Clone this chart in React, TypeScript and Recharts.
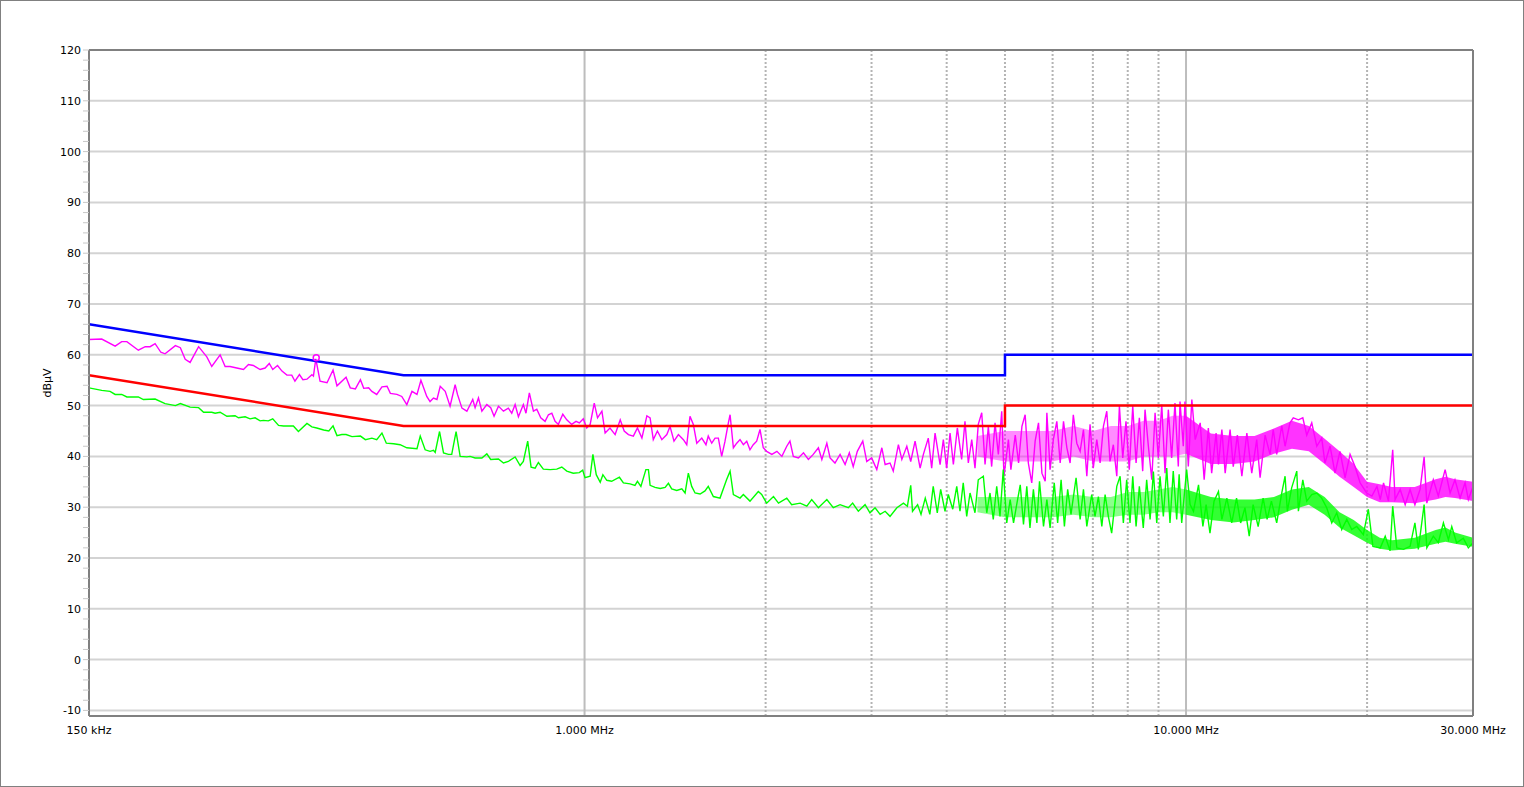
import React from "react";
import {
  ComposedChart,
  Line,
  Area,
  XAxis,
  YAxis,
  CartesianGrid,
  ReferenceLine,
  ReferenceDot,
} from "recharts";

const FREQ_TICKS = [0.15, 1, 10, 30];
const FREQ_TICK_LABELS = ["150 kHz", "1.000 MHz", "10.000 MHz", "30.000 MHz"];
const MAJOR_FREQ_LINES = [1, 10];
const MINOR_FREQ_LINES = [2, 3, 4, 5, 6, 7, 8, 9, 20];
const LEVEL_GRID = [-10, 0, 10, 20, 30, 40, 50, 60, 70, 80, 90, 100, 110];
const LEVEL_TICKS = [
  -10, -8, -6, -4, -2, 0, 2, 4, 6, 8, 10, 12, 14, 16, 18, 20, 22, 24, 26, 28,
  30, 32, 34, 36, 38, 40, 42, 44, 46, 48, 50, 52, 54, 56, 58, 60, 62, 64, 66,
  68, 70, 72, 74, 76, 78, 80, 82, 84, 86, 88, 90, 92, 94, 96, 98, 100, 102,
  104, 106, 108, 110, 112, 114, 116, 118, 120,
];

// limit lines (QP = blue, AV = red)
const QP_LIMIT_MHZ = [0.15, 0.5, 5, 5, 30];
const QP_LIMIT_DBUV = [66, 56, 56, 60, 60];
const AV_LIMIT_MHZ = [0.15, 0.5, 5, 5, 30];
const AV_LIMIT_DBUV = [56, 46, 46, 50, 50];

// peak marker
const MARKER_MHZ = [0.358];
const MARKER_DBUV = [59.4];

// peak trace (magenta)
const PEAK_MHZ = [
  0.15, 0.1575, 0.1658, 0.17, 0.1734, 0.1812, 0.186, 0.1895, 0.1932, 0.1975,
  0.2007, 0.2088, 0.2128, 0.2168, 0.2209, 0.2282, 0.2355, 0.24, 0.2478, 0.2526,
  0.2574, 0.2641, 0.271, 0.2762, 0.2814, 0.2888, 0.2944, 0.2991, 0.3031, 0.3087,
  0.314, 0.32, 0.326, 0.33, 0.3357, 0.3402, 0.3455, 0.3521, 0.3542, 0.3574,
  0.3633, 0.3731, 0.3818, 0.3876, 0.4013, 0.4078, 0.4159, 0.424, 0.4294, 0.4375,
  0.443, 0.4513, 0.4604, 0.4695, 0.4755, 0.4876, 0.4967, 0.5064, 0.5165, 0.5265,
  0.5345, 0.5466, 0.5535, 0.5608, 0.5683, 0.5755, 0.5866, 0.5976, 0.6093, 0.6148,
  0.6254, 0.6373, 0.6518, 0.6577, 0.6662, 0.675, 0.6879, 0.6982, 0.7072, 0.7192,
  0.7331, 0.7469, 0.7568, 0.7666, 0.7763, 0.7911, 0.7991, 0.8095, 0.8222, 0.8329,
  0.8456, 0.8597, 0.8708, 0.8822, 0.8933, 0.9046, 0.9201, 0.9342, 0.9519, 0.9679,
  0.9802, 0.9951, 1.0084, 1.0217, 1.0378, 1.051, 1.0687, 1.0819, 1.1022, 1.1242,
  1.1463, 1.1639, 1.1828, 1.2053, 1.2244, 1.2455, 1.2694, 1.2852, 1.301, 1.3216,
  1.3443, 1.3701, 1.3871, 1.4083, 1.4322, 1.46, 1.4789, 1.4972, 1.5166, 1.5367,
  1.5663, 1.5917, 1.6057, 1.6272, 1.6481, 1.669, 1.6905, 1.7121, 1.7342, 1.7456,
  1.7678, 1.7906, 1.8134, 1.8366, 1.8606, 1.8838, 1.9075, 1.9328, 1.9575, 1.9821,
  2.008, 2.0482, 2.0884, 2.1285, 2.1687, 2.1952, 2.2238, 2.2678, 2.3119, 2.3559,
  2.4, 2.4478, 2.4804, 2.5282, 2.5598, 2.6082, 2.6598, 2.7113, 2.7557, 2.7969,
  2.8411, 2.9011, 2.9456, 3.0012, 3.061, 3.1208, 3.1603, 3.2201, 3.2604, 3.3251,
  3.3692, 3.4339, 3.4857, 3.5442, 3.6133, 3.6588, 3.7279, 3.7768, 3.8259, 3.9003,
  3.9494, 4.0, 4.0519, 4.1038, 4.1667, 4.2358, 4.2903, 4.3456, 4.4027, 4.4581,
  4.5142, 4.5745, 4.633, 4.6915, 4.7518, 4.8134, 4.875, 4.9384, 4.9813, 5.0663,
  5.1145, 5.2008, 5.2671, 5.3353, 5.4016, 5.4679, 5.5396, 5.6123, 5.685, 5.7599,
  5.8326, 5.87, 5.9427, 6.0167, 6.0981, 6.177, 6.256, 6.3373, 6.4163, 6.4952,
  6.5825, 6.6675, 6.7526, 6.8402, 6.9253, 7.0111, 7.1056, 7.1972, 7.2889, 7.3833,
  7.475, 7.571, 7.6716, 7.7485, 7.8491, 7.9467, 8.0475, 8.1551, 8.2595, 8.3639,
  8.4715, 8.547, 8.6577, 8.7718, 8.8826, 8.9933, 9.1127, 9.2289, 9.3451, 9.4648,
  9.5858, 9.709, 9.7724, 9.8955, 9.959, 10.088, 10.225, 10.357, 10.558, 10.719,
  10.892, 11.031, 11.22, 11.322, 11.471, 11.617, 11.837, 11.982, 12.172, 12.383,
  12.622, 12.861, 13.108, 13.278, 13.536, 13.794, 13.964, 14.15, 14.428, 14.611,
  14.889, 15.077, 15.375, 15.637, 15.875, 16.182, 16.497, 16.811, 17.02, 17.356,
  17.691, 18.028, 18.383, 18.738, 19.097, 19.47, 19.97, 20.369, 20.771, 21.036,
  21.301, 21.703, 22.061, 22.263, 22.702, 23.14, 23.579, 24.019, 24.498, 24.88,
  25.139, 25.77, 26.269, 26.964, 27.482, 28.0, 28.552, 29.105, 29.47, 30.0,
];
const PEAK_DBUV = [
  63.0, 63.1, 61.7, 62.6, 62.6, 60.9, 61.6, 61.6, 62.2, 60.5,
  60.2, 61.8, 61.4, 59.1, 58.5, 61.6, 59.6, 57.7, 60.0, 57.7,
  57.7, 57.4, 57.1, 58.1, 57.9, 57.1, 57.4, 58.3, 57.1, 57.9,
  56.8, 56.0, 56.0, 54.8, 56.1, 55.1, 55.2, 56.1, 55.8, 59.2,
  54.8, 54.5, 57.0, 53.9, 55.6, 53.5, 53.3, 55.1, 53.4, 53.5,
  52.8, 52.2, 53.7, 53.8, 52.4, 52.2, 51.8, 50.2, 52.8, 52.2,
  55.0, 51.8, 50.8, 51.5, 51.2, 53.8, 52.8, 49.9, 54.1, 52.2,
  49.5, 48.9, 51.2, 49.6, 51.5, 48.9, 50.2, 49.6, 47.9, 49.9,
  48.9, 49.5, 48.5, 50.2, 47.8, 50.2, 48.5, 52.5, 48.9, 49.3,
  47.6, 46.9, 48.2, 48.5, 46.9, 46.3, 48.3, 47.2, 46.3, 46.9,
  46.6, 47.4, 45.6, 46.3, 50.5, 47.6, 48.9, 44.6, 45.6, 44.3,
  47.2, 45.0, 44.3, 44.0, 45.6, 43.6, 48.0, 47.6, 43.3, 45.0,
  43.3, 44.3, 45.9, 43.0, 44.3, 43.3, 42.3, 47.9, 46.3, 42.6,
  43.6, 42.3, 44.0, 42.6, 43.6, 43.6, 40.0, 43.0, 46.6, 48.2,
  41.7, 42.6, 43.3, 42.3, 43.0, 41.3, 42.3, 43.0, 45.3, 41.7,
  41.0, 40.4, 41.0, 40.0, 42.0, 43.0, 40.0, 39.7, 40.7, 39.4,
  40.4, 41.7, 39.4, 42.6, 39.7, 38.7, 40.4, 38.4, 40.7, 38.0,
  41.0, 43.0, 39.0, 39.7, 37.4, 41.7, 38.4, 38.7, 37.1, 42.3,
  39.4, 42.0, 39.0, 43.0, 37.7, 40.4, 43.6, 37.7, 44.6, 38.4,
  43.3, 37.7, 44.6, 38.4, 45.6, 39.4, 46.9, 38.7, 43.3, 37.7,
  46.3, 48.6, 38.4, 45.9, 38.0, 46.6, 40.4, 48.9, 36.1, 43.3,
  37.4, 44.2, 38.7, 45.9, 48.2, 38.7, 34.8, 43.0, 46.6, 36.7,
  35.1, 48.6, 37.4, 43.3, 46.9, 38.7, 46.9, 41.7, 38.7, 48.2,
  42.6, 41.0, 45.3, 36.1, 46.3, 37.7, 43.3, 38.7, 45.9, 48.9,
  39.0, 42.3, 36.1, 49.9, 39.7, 46.9, 37.4, 49.9, 38.7, 47.6,
  37.1, 49.2, 42.0, 35.4, 48.6, 39.7, 50.2, 36.7, 49.2, 39.7,
  50.5, 38.0, 50.8, 42.0, 50.8, 38.0, 51.2, 43.3, 46.6, 35.4,
  45.6, 36.7, 44.6, 38.4, 45.3, 36.7, 45.3, 38.0, 44.2, 36.1,
  44.6, 36.7, 43.3, 35.8, 44.2, 40.4, 45.3, 40.4, 46.0, 42.0,
  46.6, 47.6, 47.2, 47.6, 44.2, 46.6, 42.0, 43.6, 38.7, 42.0,
  36.7, 41.0, 35.8, 40.4, 38.0, 34.8, 32.8, 32.2, 34.1, 31.5,
  34.8, 31.2, 41.3, 31.5, 33.5, 30.5, 33.5, 30.5, 33.5, 39.9,
  30.8, 35.4, 32.2, 37.4, 32.8, 35.4, 31.8, 34.8, 31.5, 34.1,
];

// dense body of the peak trace above 4.5 MHz (low / high edge)
const PEAK_BAND_MHZ = [
  4.5, 5, 5.5, 6, 6.5, 7, 7.5, 8, 8.5, 9, 9.5, 10,
  11, 12, 13, 14, 15, 16, 17, 18, 19, 20, 21, 22, 24, 26, 27, 28, 30,
];
const PEAK_BAND_LOW = [
  40, 39, 39, 39, 40, 39, 39, 39, 40, 40, 40, 40.5,
  38.5, 38.5, 39, 40.5, 41.5, 41, 38.5, 36, 34, 32, 31, 31, 30.8, 31.5, 32, 31.8, 31.2,
];
const PEAK_BAND_HIGH = [
  44, 45, 45, 45, 46, 45, 46, 46, 47, 47, 48, 48,
  44.5, 44, 44, 45.5, 47, 46, 43.5, 41, 38.5, 35, 34.5, 34, 34, 35.5, 36, 35.5, 35,
];

// average trace (green)
const AVG_MHZ = [
  0.15, 0.1575, 0.1626, 0.1658, 0.17, 0.1734, 0.1812, 0.1847, 0.1932, 0.2007,
  0.2088, 0.2128, 0.2209, 0.2282, 0.2326, 0.24, 0.2431, 0.2478, 0.2543, 0.2624,
  0.2658, 0.2727, 0.2779, 0.2833, 0.2888, 0.2925, 0.298, 0.3031, 0.3099, 0.3159,
  0.328, 0.3344, 0.3455, 0.3521, 0.3587, 0.3684, 0.3757, 0.3818, 0.3876, 0.3949,
  0.4013, 0.4105, 0.424, 0.4321, 0.443, 0.4513, 0.4604, 0.4682, 0.4815, 0.4936,
  0.5064, 0.5265, 0.5331, 0.5432, 0.5535, 0.5608, 0.5645, 0.574, 0.5828, 0.5939,
  0.6014, 0.6115, 0.6211, 0.6373, 0.6452, 0.6577, 0.675, 0.6879, 0.6982, 0.7192,
  0.7331, 0.7469, 0.7666, 0.7814, 0.7911, 0.8044, 0.8149, 0.8276, 0.838, 0.854,
  0.8765, 0.899, 0.9166, 0.9342, 0.9578, 0.9802, 0.9929, 1.0016, 1.0217, 1.0325,
  1.0458, 1.0618, 1.0727, 1.0888, 1.1093, 1.1427, 1.1604, 1.1903, 1.2129, 1.2244,
  1.2407, 1.2646, 1.277, 1.2852, 1.3098, 1.3356, 1.3614, 1.3785, 1.396, 1.4233,
  1.4511, 1.4694, 1.4878, 1.5071, 1.5266, 1.5562, 1.5858, 1.6057, 1.6374, 1.6797,
  1.7222, 1.7456, 1.7678, 1.8134, 1.8366, 1.8838, 1.9448, 1.9701, 2.008, 2.061,
  2.1012, 2.1687, 2.2097, 2.2828, 2.3418, 2.3859, 2.4478, 2.5282, 2.5914, 2.6598,
  2.7453, 2.7907, 2.8522, 2.9267, 2.9822, 3.0407, 3.1005, 3.1603, 3.2201, 3.3057,
  3.3899, 3.4417, 3.4857, 3.5097, 3.5788, 3.6257, 3.6851, 3.7504, 3.7991, 3.8586,
  3.9092, 3.9747, 4.0252, 4.0943, 4.1572, 4.2091, 4.2617, 4.3188, 4.3742, 4.4581,
  4.5142, 4.6029, 4.6632, 4.7217, 4.781, 4.8445, 4.906, 4.9675, 5.0341, 5.1004,
  5.1667, 5.2349, 5.3012, 5.3675, 5.4357, 5.5022, 5.5749, 5.6498, 5.707, 5.7952,
  5.87, 5.9427, 6.0383, 6.1172, 6.1986, 6.2775, 6.3565, 6.4378, 6.5644, 6.6675,
  6.7526, 6.8402, 6.9691, 7.0583, 7.15, 7.2444, 7.3361, 7.4278, 7.5224, 7.6716,
  7.7692, 7.8669, 7.9675, 8.0696, 8.1551, 8.2595, 8.3639, 8.4905, 8.6014, 8.7148,
  8.8255, 8.9396, 9.0528, 9.169, 9.2887, 9.4049, 9.5225, 9.6494, 9.74, 9.8357,
  10.024, 10.157, 10.289, 10.49, 10.667, 10.799, 10.96, 11.132, 11.322, 11.471,
  11.692, 11.912, 12.134, 12.325, 12.531, 12.737, 12.928, 13.18, 13.433, 13.639,
  13.866, 14.15, 14.428, 14.611, 14.739, 14.983, 15.281, 15.375, 15.637, 15.875,
  16.182, 16.497, 16.811, 17.134, 17.47, 17.805, 18.149, 18.504, 18.858, 19.224,
  19.716, 20.096, 20.45, 21.036, 21.438, 21.839, 22.061, 22.412, 22.991, 23.579,
  24.019, 24.335, 24.88, 25.139, 25.77, 26.269, 26.787, 27.306, 27.658, 28.177,
  28.906, 29.47, 30.0,
];
const AVG_DBUV = [
  53.5, 53.0, 52.8, 52.2, 52.2, 51.7, 51.7, 51.2, 51.3, 50.4,
  50.0, 50.4, 49.7, 49.6, 48.7, 48.7, 48.5, 48.7, 47.9, 48.0,
  47.6, 47.8, 47.4, 47.6, 47.0, 47.1, 47.0, 47.4, 46.1, 46.0,
  46.0, 44.9, 46.5, 45.8, 45.6, 45.2, 45.0, 46.0, 44.1, 44.3,
  44.3, 43.9, 44.0, 43.3, 43.6, 43.3, 44.6, 42.6, 42.5, 42.3,
  41.7, 41.5, 44.0, 41.3, 41.0, 41.2, 40.8, 44.9, 40.7, 40.4,
  40.4, 44.9, 40.0, 39.9, 40.0, 39.7, 39.7, 40.5, 39.4, 39.5,
  38.7, 39.0, 39.9, 38.2, 39.0, 43.0, 37.9, 37.7, 38.8, 37.5,
  37.4, 37.5, 37.9, 37.1, 36.7, 36.8, 37.3, 35.8, 36.1, 40.4,
  36.4, 34.9, 36.4, 35.3, 35.1, 35.9, 34.8, 34.6, 34.3, 35.1,
  34.1, 37.4, 37.4, 34.3, 33.9, 33.7, 33.9, 34.7, 33.6, 33.3,
  33.6, 32.8, 36.7, 34.1, 32.8, 32.6, 33.2, 34.1, 32.1, 31.8,
  35.4, 37.1, 32.5, 31.8, 32.5, 31.2, 33.1, 32.5, 30.8, 32.1,
  30.8, 31.8, 30.5, 30.8, 30.2, 31.5, 29.9, 31.5, 29.9, 30.5,
  29.9, 30.8, 29.2, 30.5, 28.9, 29.9, 28.6, 29.2, 28.2, 29.9,
  30.8, 30.2, 34.3, 29.2, 30.5, 28.6, 31.8, 28.6, 34.1, 28.9,
  33.5, 29.2, 32.5, 29.6, 34.1, 29.2, 34.8, 28.2, 32.8, 28.9,
  35.4, 36.1, 28.9, 32.8, 27.6, 34.1, 28.2, 37.4, 26.9, 31.5,
  26.9, 30.8, 34.4, 26.6, 34.1, 25.9, 33.5, 26.9, 35.1, 26.2,
  31.5, 25.9, 34.8, 26.9, 35.4, 26.2, 33.5, 28.6, 35.8, 27.6,
  33.5, 26.2, 32.5, 28.2, 32.1, 26.2, 32.5, 28.2, 24.9, 34.1,
  36.1, 26.9, 35.4, 26.9, 36.1, 26.2, 34.1, 25.9, 35.4, 27.6,
  37.0, 26.9, 36.1, 28.2, 37.7, 26.9, 37.1, 27.6, 36.5, 26.9,
  37.4, 30.5, 29.2, 34.4, 26.2, 30.5, 24.9, 31.2, 33.1, 27.6,
  31.8, 26.9, 31.8, 26.9, 29.9, 24.3, 30.5, 26.2, 31.8, 27.6,
  31.2, 26.9, 32.8, 36.1, 29.2, 33.8, 37.1, 29.2, 35.4, 31.2,
  32.5, 32.8, 31.8, 29.9, 26.9, 28.9, 25.6, 27.6, 25.6, 26.2,
  24.6, 29.6, 22.3, 22.0, 24.3, 21.4, 30.2, 22.0, 21.7, 22.3,
  26.9, 21.7, 30.5, 22.0, 24.3, 23.0, 26.9, 23.6, 26.2, 23.0,
  23.9, 22.0, 23.0,
];

// dense body of the average trace above 4.5 MHz (low / high edge)
const AVG_BAND_MHZ = [
  4.5, 5, 5.5, 6, 6.5, 7, 7.5, 8, 8.5, 9, 9.5, 10,
  11, 12, 13, 14, 15, 16, 17, 18, 19, 20, 21, 22, 24, 26, 27, 28, 30,
];
const AVG_BAND_LOW = [
  29, 28, 28, 28, 28.5, 28, 28, 28.5, 28.5, 29, 29, 28.5,
  27.5, 27, 27.5, 28, 29.5, 30.5, 28.5, 26, 24.5, 23, 21.8, 21.5, 21.8, 22.8, 23.2, 22.8, 22.2,
];
const AVG_BAND_HIGH = [
  32, 32, 32, 32, 32.5, 32, 32, 33, 33, 33.5, 34, 33.5,
  32, 31.5, 31.5, 32, 33.5, 34, 32, 29, 27.5, 25.5, 24, 23.5, 24, 25.5, 26, 25, 24,
];

const toPoints = (freqs: number[], levels: number[]) =>
  freqs.map((f, i) => ({ f, v: levels[i] }));

const toBand = (freqs: number[], lo: number[], hi: number[]) =>
  freqs.map((f, i) => ({ f, band: [lo[i], hi[i]] }));

const peakData = toPoints(PEAK_MHZ, PEAK_DBUV);
const avgData = toPoints(AVG_MHZ, AVG_DBUV);
const qpLimit = toPoints(QP_LIMIT_MHZ, QP_LIMIT_DBUV);
const avLimit = toPoints(AV_LIMIT_MHZ, AV_LIMIT_DBUV);

// the sweep gets very dense above 10 MHz, lighter between 4.5 and 10 MHz
const peakBand = toBand(PEAK_BAND_MHZ, PEAK_BAND_LOW, PEAK_BAND_HIGH);
const avgBand = toBand(AVG_BAND_MHZ, AVG_BAND_LOW, AVG_BAND_HIGH);
const peakBandMid = peakBand.filter((d) => d.f <= 10);
const peakBandHigh = peakBand.filter((d) => d.f >= 10);
const avgBandMid = avgBand.filter((d) => d.f <= 10);
const avgBandHigh = avgBand.filter((d) => d.f >= 10);

const FONT = "'DejaVu Sans', Verdana, sans-serif";
const FRAME = "#808080";

function FreqTick(props: any) {
  const { x, y, payload } = props;
  const idx = FREQ_TICKS.indexOf(payload.value);
  return (
    <text x={x} y={y} dy={10} textAnchor="middle" fontSize={11} fontFamily={FONT} fill="#000">
      {FREQ_TICK_LABELS[idx]}
    </text>
  );
}

function LevelTick(props: any) {
  const { x, y, payload } = props;
  if (payload.value % 10 !== 0) return <g />;
  return (
    <text x={x} y={y} dy={4} textAnchor="end" fontSize={11} fontFamily={FONT} fill="#000">
      {payload.value}
    </text>
  );
}

export default function App() {
  return (
    <div
      style={{
        position: "absolute",
        left: 0,
        top: 0,
        width: 1524,
        height: 787,
        background: "#fff",
        boxShadow: "inset 0 0 0 1px #808080",
      }}
    >
      <ComposedChart
        width={1524}
        height={787}
        margin={{ top: 50, right: 51, bottom: 41, left: 29 }}
      >
        <CartesianGrid
          vertical={false}
          horizontalValues={LEVEL_GRID}
          stroke="#d3d3d3"
          strokeWidth={2}
        />
        <CartesianGrid
          horizontal={false}
          verticalValues={MAJOR_FREQ_LINES}
          stroke="#bdbdbd"
          strokeWidth={2}
        />
        <CartesianGrid
          horizontal={false}
          verticalValues={MINOR_FREQ_LINES}
          stroke="#b4b4b4"
          strokeWidth={2}
          strokeDasharray="2 2"
        />
        <XAxis
          dataKey="f"
          type="number"
          scale="log"
          domain={[0.15, 30]}
          allowDataOverflow
          ticks={FREQ_TICKS}
          interval={0}
          height={30}
          axisLine={{ stroke: FRAME, strokeWidth: 2 }}
          tickLine={false}
          tick={<FreqTick />}
        />
        <YAxis
          type="number"
          domain={[-11.1, 120]}
          allowDataOverflow
          ticks={LEVEL_TICKS}
          interval={0}
          width={60}
          axisLine={{ stroke: FRAME, strokeWidth: 2 }}
          tickLine={{ stroke: "#c8c8c8" }}
          tickSize={6}
          tick={<LevelTick />}
          label={{
            content: (p: any) => {
              const vb = p.viewBox || { x: 29, y: 50, height: 666 };
              return (
                <text
                  transform={`translate(${vb.x + 18.5},${vb.y + vb.height / 2}) rotate(-90)`}
                  textAnchor="middle"
                  dominantBaseline="central"
                  fontSize={11}
                  fontFamily={FONT}
                  fill="#000"
                >
                  dBµV
                </text>
              );
            },
          }}
        />
        <Area
          data={peakBandMid}
          dataKey="band"
          type="linear"
          stroke="none"
          fill="#ff00ff"
          fillOpacity={0.45}
          isAnimationActive={false}
        />
        <Area
          data={peakBandHigh}
          dataKey="band"
          type="linear"
          stroke="none"
          fill="#ff00ff"
          fillOpacity={0.8}
          isAnimationActive={false}
        />
        <Area
          data={avgBandMid}
          dataKey="band"
          type="linear"
          stroke="none"
          fill="#00ff00"
          fillOpacity={0.45}
          isAnimationActive={false}
        />
        <Area
          data={avgBandHigh}
          dataKey="band"
          type="linear"
          stroke="none"
          fill="#00ff00"
          fillOpacity={0.8}
          isAnimationActive={false}
        />
        <Line
          data={peakData}
          dataKey="v"
          type="linear"
          stroke="#ff00ff"
          strokeWidth={1.4}
          dot={false}
          isAnimationActive={false}
        />
        <Line
          data={avgData}
          dataKey="v"
          type="linear"
          stroke="#00ff00"
          strokeWidth={1.4}
          dot={false}
          isAnimationActive={false}
        />
        <Line
          data={avLimit}
          dataKey="v"
          type="linear"
          stroke="#ff0000"
          strokeWidth={2.5}
          dot={false}
          isAnimationActive={false}
        />
        <Line
          data={qpLimit}
          dataKey="v"
          type="linear"
          stroke="#0000ff"
          strokeWidth={2.5}
          dot={false}
          isAnimationActive={false}
        />
        <ReferenceDot
          x={MARKER_MHZ[0]}
          y={MARKER_DBUV[0]}
          r={3}
          fill="none"
          stroke="#ff00ff"
          strokeWidth={1.5}
        />
        <ReferenceLine y={120} stroke={FRAME} strokeWidth={2} />
        <ReferenceLine x={30} stroke={FRAME} strokeWidth={2} />
      </ComposedChart>
    </div>
  );
}
